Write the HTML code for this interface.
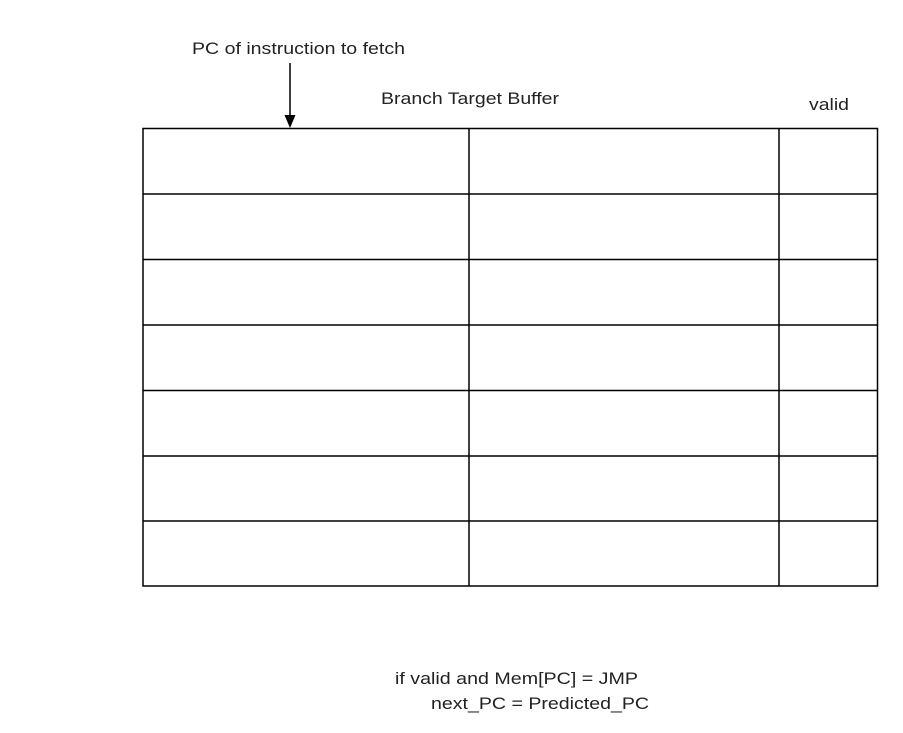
<!DOCTYPE html>
<html><head><meta charset="utf-8"><style>
html,body{margin:0;padding:0;background:#fff;width:903px;height:733px;overflow:hidden}
text{font-family:"Liberation Sans",Arial,sans-serif;font-size:17px;fill:#222}
</style></head><body>
<svg width="903" height="733" viewBox="0 0 903 733" xmlns="http://www.w3.org/2000/svg">
<g stroke="#000" stroke-width="1.5" fill="none">
<rect x="143" y="128.5" width="734.5" height="457.5"/>
<line x1="469" y1="128.5" x2="469" y2="586"/>
<line x1="779" y1="128.5" x2="779" y2="586"/>
<line x1="143" y1="194" x2="877.5" y2="194"/>
<line x1="143" y1="259.5" x2="877.5" y2="259.5"/>
<line x1="143" y1="325" x2="877.5" y2="325"/>
<line x1="143" y1="390.5" x2="877.5" y2="390.5"/>
<line x1="143" y1="456" x2="877.5" y2="456"/>
<line x1="143" y1="521" x2="877.5" y2="521"/>
<line x1="290" y1="63" x2="290" y2="118"/>
</g>
<polygon points="284.5,115 295.5,115 290,128" fill="#000"/>
<text x="192" y="54" textLength="213" lengthAdjust="spacingAndGlyphs">PC of instruction to fetch</text>
<text x="381" y="104" textLength="178" lengthAdjust="spacingAndGlyphs">Branch Target Buffer</text>
<text x="809" y="110" textLength="40" lengthAdjust="spacingAndGlyphs">valid</text>
<text x="395" y="684" textLength="243" lengthAdjust="spacingAndGlyphs">if valid and Mem[PC] = JMP</text>
<text x="431" y="709" textLength="218" lengthAdjust="spacingAndGlyphs">next_PC = Predicted_PC</text>
</svg>
</body></html>
